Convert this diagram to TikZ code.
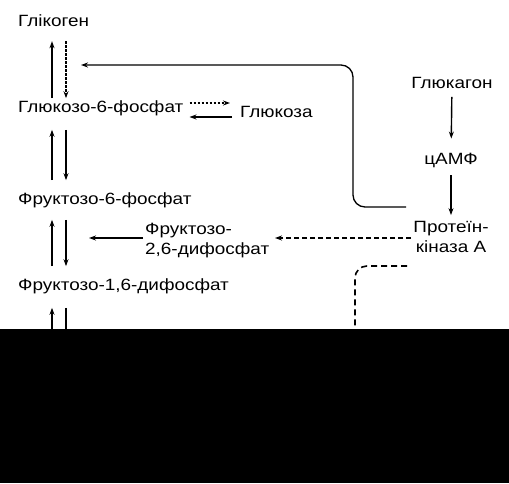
\documentclass[tikz,border=0pt]{standalone}
\usepackage{fontspec}
\setmainfont{Liberation Sans}[FakeStretch=1.16]
\usetikzlibrary{positioning,arrows.meta}
\tikzset{
  metab/.style={inner sep=2pt, font=\fontsize{16.3}{20}\selectfont, align=left},
  flow/.style={-{Stealth[length=7pt,width=5pt]}, line width=1.4pt, black},
  opt/.style={flow, dash pattern=on 5pt off 3pt},
  fine/.style={flow, dash pattern=on 2.5pt off 1.5pt},
  link/.style={line width=1.3pt, rounded corners=12pt}
}

\begin{document}
\begin{tikzpicture}[x=1pt, y=-1pt]
  \useasboundingbox[fill=white] (0,0) rectangle (509,483);
  % left column
  \node[metab, anchor=west] (glyc) at (16,21) {Глікоген};
  \node[metab, anchor=west] (g6p) at (16,108) {Глюкозо-6-фосфат};
  \node[metab, anchor=west] (glc) at (238,112) {Глюкоза};
  \node[metab, anchor=west] (f6p) at (16,200) {Фруктозо-6-фосфат};
  \node[metab, anchor=west] (f26) at (143,241) {Фруктозо-\\2,6-дифосфат};
  \node[metab, anchor=west] (f16) at (16,286) {Фруктозо-1,6-дифосфат};
  % right column
  \node[metab, align=center] (gcg) at (452,83) {Глюкагон};
  \node[metab, align=center] (camp) at (451,160) {цАМФ};
  \node[metab, align=center] (pka) at (451,237) {Протеїн-\\кіназа А};

  \coordinate (upx) at (52,0);
  \coordinate (dnx) at (66,0);
  \coordinate (cut) at (0,329);
  \coordinate (f26tip) at (89,238);
  \coordinate (pkatip) at (275,238);
  \coordinate (pkaup) at (406,207);
  \coordinate (pkadn) at (407,266);
  \coordinate (upbend) at (353,65);
  \coordinate (glyctip) at (81,65);
  \coordinate (dnbend) at (355,0);

  \fill[black] (cut) rectangle (509,483);

  \draw[flow] (g6p.north -| upx) -- ([yshift=-12pt]glyc.south -| upx);
  \draw[fine] ([yshift=-12pt]glyc.south -| dnx) -- (g6p.north -| dnx);
  \draw[flow] ([yshift=10pt]f6p.north -| upx) -- ([yshift=-12pt]g6p.south -| upx);
  \draw[flow] ([yshift=-12pt]g6p.south -| dnx) -- ([yshift=10pt]f6p.north -| dnx);
  \draw[flow] ([yshift=10pt]f16.north -| upx) -- ([yshift=-10pt]f6p.south -| upx);
  \draw[flow] ([yshift=-10pt]f6p.south -| dnx) -- ([yshift=10pt]f16.north -| dnx);
  \draw[flow] (cut -| upx) -- ([yshift=-12pt]f16.south -| upx);
  \draw[line width=1.4pt] ([yshift=-12pt]f16.south -| dnx) -- (cut -| dnx);

  \draw[fine, shorten <=4pt, shorten >=8pt] ([yshift=5pt]g6p.east) -- ([yshift=5pt]g6p.east -| glc.west);
  \draw[flow, shorten <=6pt, shorten >=4pt] ([yshift=-9pt]g6p.east -| glc.west) -- ([yshift=-9pt]g6p.east);

  \draw[flow] (f26.west |- f26tip) -- (f26tip);
  \draw[opt] (pka.west |- pkatip) -- (pkatip);

  \draw[flow, shorten <=6pt, shorten >=12pt] (gcg) -- (camp);
  \draw[flow, shorten <=6pt, shorten >=4pt] (camp) -- (pka);

  \draw[link, -{Stealth[length=7pt,width=5pt]}] (pkaup) -| (upbend) -- (glyctip);
  \draw[link, line width=1.6pt, dash pattern=on 6pt off 4pt] (pkadn) -| (cut -| dnbend);
\end{tikzpicture}
\end{document}
